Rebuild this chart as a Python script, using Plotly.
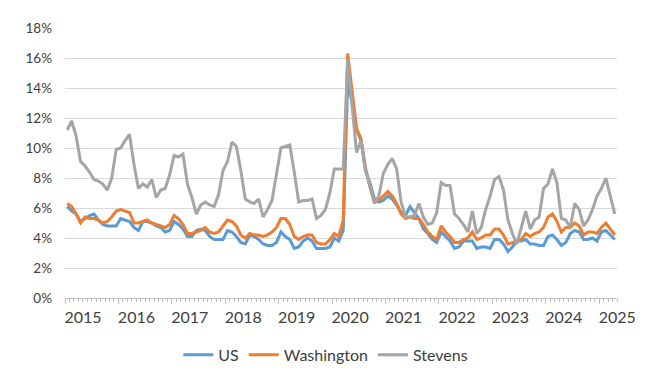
import plotly.graph_objects as go

# Monthly series, 124 months (index 0 .. 123)
us = [
    6.1, 5.8, 5.6, 5.1, 5.3, 5.5, 5.6, 5.2, 4.9, 4.8, 4.8, 4.8,
    5.3, 5.2, 5.1, 4.7, 4.5, 5.1, 5.1, 5.0, 4.8, 4.7, 4.4, 4.5,
    5.1, 4.9, 4.6, 4.1, 4.1, 4.5, 4.6, 4.5, 4.1, 3.9, 3.9, 3.9,
    4.5, 4.4, 4.1, 3.7, 3.6, 4.2, 4.1, 3.9, 3.6, 3.5, 3.5, 3.7,
    4.4, 4.1, 3.9, 3.3, 3.4, 3.8, 4.0, 3.8, 3.3, 3.3, 3.3, 3.4,
    4.0, 3.8, 4.5, 14.4, 13.0, 11.2, 10.5, 8.5, 7.7, 6.6, 6.4, 6.5,
    6.8, 6.6, 6.2, 5.7, 5.5, 6.1, 5.7, 5.3, 4.6, 4.3, 3.9, 3.7,
    4.4, 4.1, 3.8, 3.3, 3.4, 3.8, 3.8, 3.8, 3.3, 3.4, 3.4, 3.3,
    3.9, 3.9, 3.6, 3.1, 3.4, 3.8, 3.8, 3.9, 3.6, 3.6, 3.5, 3.5,
    4.1, 4.2, 3.9, 3.5, 3.7, 4.3, 4.5, 4.4, 3.9, 3.9, 4.0, 3.8,
    4.4, 4.5, 4.2, 3.9,
]

washington = [
    6.3, 6.1, 5.6, 5.0, 5.4, 5.3, 5.3, 5.2, 5.0, 5.1, 5.4, 5.8,
    5.9, 5.8, 5.7, 5.0, 5.0, 5.1, 5.2, 5.0, 4.9, 4.8, 4.7, 4.9,
    5.5, 5.3, 4.9, 4.3, 4.3, 4.4, 4.5, 4.7, 4.4, 4.3, 4.4, 4.8,
    5.2, 5.1, 4.8, 4.2, 4.0, 4.3, 4.2, 4.2, 4.1, 4.2, 4.4, 4.7,
    5.3, 5.3, 4.9, 4.1, 3.9, 4.1, 4.2, 4.2, 3.7, 3.6, 3.6, 3.9,
    4.3, 4.1, 5.2, 16.3, 13.9, 11.3, 10.6, 8.7, 7.4, 6.4, 6.5, 6.8,
    7.1, 6.8, 6.3, 5.6, 5.3, 5.4, 5.3, 5.3, 4.9, 4.4, 4.1, 3.9,
    4.8, 4.4, 4.1, 3.7, 3.7, 3.9, 4.0, 4.4, 3.9, 4.0, 4.2, 4.2,
    4.6, 4.6, 4.2, 3.6, 3.7, 3.8, 3.9, 4.3, 4.1, 4.3, 4.4, 4.7,
    5.4, 5.6, 5.1, 4.4, 4.7, 4.7, 5.0, 4.8, 4.2, 4.4, 4.4, 4.3,
    4.7, 5.0, 4.6, 4.2,
]

stevens = [
    11.2, 11.8, 10.8, 9.1, 8.8, 8.4, 7.9, 7.8, 7.6, 7.2, 8.0, 9.9,
    10.0, 10.5, 10.9, 8.9, 7.3, 7.6, 7.4, 7.9, 6.7, 7.2, 7.3, 8.2,
    9.5, 9.4, 9.6, 7.6, 6.7, 5.6, 6.2, 6.4, 6.2, 6.1, 6.9, 8.5,
    9.1, 10.4, 10.1, 8.5, 6.6, 6.4, 6.3, 6.6, 5.4, 5.9, 6.5, 8.4,
    10.0, 10.1, 10.2, 8.4, 6.4, 6.5, 6.5, 6.6, 5.3, 5.5, 5.9, 7.0,
    8.6, 8.6, 8.6, 15.9, 12.8, 9.7, 10.5, 8.5, 7.5, 6.3, 6.8, 8.3,
    8.9, 9.3, 8.6, 6.4, 5.4, 5.4, 5.5, 6.3, 5.4, 4.9, 5.0, 5.7,
    7.7, 7.5, 7.5, 5.6, 5.3, 4.9, 4.4, 5.8, 4.3, 4.7, 5.9, 6.8,
    7.9, 8.1, 7.2, 5.2, 4.3, 3.6, 4.7, 5.8, 4.6, 5.2, 5.4, 7.3,
    7.6, 8.6, 7.7, 5.3, 5.2, 4.7, 6.3, 5.9, 4.8, 5.2, 5.9, 6.8,
    7.3, 8.0, 6.8, 5.6,
]

year_labels = ["2015", "2016", "2017", "2018", "2019", "2020",
               "2021", "2022", "2023", "2024", "2025"]

n = len(us)
x = list(range(n))
year_ticks = [-0.5 + 12 * k for k in range(len(year_labels))]

series = [
    ("US", us, "#5B9BD5"),
    ("Washington", washington, "#ED7D31"),
    ("Stevens", stevens, "#A5A5A5"),
]

fig = go.Figure()
for name, vals, color in series:
    fig.add_trace(go.Scatter(
        x=x, y=vals, name=name, mode="lines",
        line=dict(color=color, width=3),
    ))

font_color = "#404040"
fig.update_layout(
    width=642, height=371,
    margin=dict(l=57, r=33, t=20, b=81),
    paper_bgcolor="white", plot_bgcolor="white",
    font=dict(family="Lato", color=font_color),
    showlegend=True,
    legend=dict(
        orientation="h",
        xref="container", yref="container",
        x=0.495, xanchor="center",
        y=0.065, yanchor="middle",
        font=dict(size=16, color=font_color),
        itemwidth=30,
    ),
    xaxis=dict(
        range=[-0.5, n - 0.5],
        tickmode="array", tickvals=year_ticks, ticktext=year_labels,
        ticks="outside", ticklen=5, tickcolor="#bfbfbf", tickwidth=1,
        ticklabelshift=18,
        tickfont=dict(size=16, color=font_color),
        showline=True, linecolor="#bfbfbf", linewidth=1,
        showgrid=False, zeroline=False,
        minor=dict(tick0=-0.5, dtick=1, ticks="outside", ticklen=3,
                   tickcolor="#bfbfbf", tickwidth=1, showgrid=False),
    ),
    yaxis=dict(
        range=[0, 18], dtick=2, ticksuffix="%",
        tickfont=dict(size=13.5, color=font_color),
        ticklabelstandoff=12,
        showgrid=True, gridcolor="#d9d9d9", gridwidth=1,
        zeroline=False, showline=False, ticks="",
    ),
)

fig.write_html("out.html")
